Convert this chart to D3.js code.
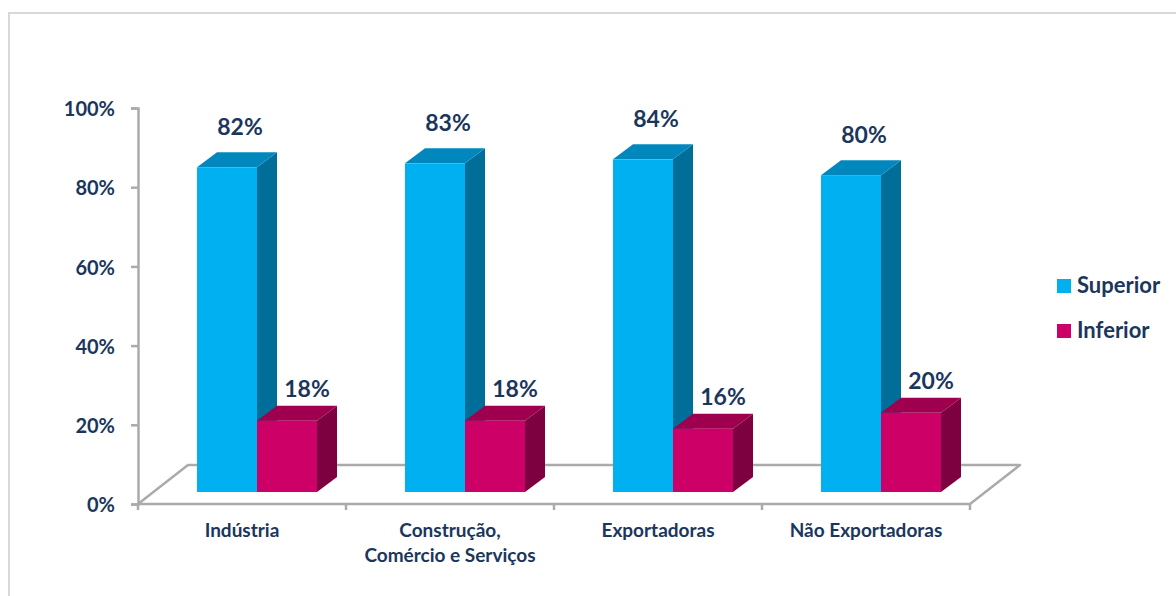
<!DOCTYPE html>
<html>
<head>
<meta charset="utf-8">
<script src="https://cdn.jsdelivr.net/npm/d3@7"></script>
<style>
  html, body { margin: 0; padding: 0; background: #fff; }
  svg { display: block; font-family: Lato, "Open Sans", sans-serif; }
</style>
</head>
<body>
<svg id="chart" width="1176" height="596"></svg>
<script>
// Categories and series
const categories = ["Indústria", "Construção,\nComércio e Serviços", "Exportadoras", "Não Exportadoras"];
const seriesNames = ["Superior", "Inferior"];
const superiorValues = [82, 83, 84, 80];
const inferiorValues = [18, 18, 16, 20];
const yTickValues = [0, 20, 40, 60, 80, 100];

const seriesValues = [superiorValues, inferiorValues];
const colors = {
  Superior: { front: "#00B0F0", top: "#0088BE", side: "#006E98" },
  Inferior: { front: "#CC0066", top: "#9E004F", side: "#7D0040" }
};
const textColor = "#1B365D";
const lineColor = "#ABABAB";

const svg = d3.select("#chart");

// Plot geometry (front plane of the 3D box)
const plotLeft = 138, plotRight = 970;
const y = d3.scaleLinear().domain([0, 100]).range([504, 108]);
const x = d3.scaleBand().domain(categories).range([plotLeft, plotRight]);
const groupWidth = 120;
const xs = d3.scaleBand().domain(seriesNames).range([0, groupWidth]);

// Depth offsets: full floor depth, bar placement depth, bar thickness
const floorDepth = { dx: 50, dy: -39 };
const barShift = { dx: 15, dy: -12 };
const barDepth = { dx: 20, dy: -15 };

// Outer frame
svg.append("path")
  .attr("d", "M9,600 L9,13 L1176,13")
  .attr("fill", "none")
  .attr("stroke", "#D9D9D9")
  .attr("stroke-width", 2);

// Floor
const y0 = y(0);
svg.append("path")
  .attr("d", d3.line()([
    [plotLeft, y0], [plotRight, y0],
    [plotRight + floorDepth.dx, y0 + floorDepth.dy],
    [plotLeft + floorDepth.dx, y0 + floorDepth.dy]
  ]) + "Z")
  .attr("fill", "#fff")
  .attr("stroke", lineColor)
  .attr("stroke-width", 2.5)
  .attr("stroke-linejoin", "round");

// Y axis
const yAxis = d3.axisLeft(y).tickValues(yTickValues).tickSize(7).tickPadding(16)
  .tickFormat(d => d + "%");
const yg = svg.append("g").attr("transform", `translate(${plotLeft},0)`).call(yAxis);
yg.select(".domain").attr("stroke", lineColor).attr("stroke-width", 2.5);
yg.selectAll(".tick line").attr("stroke", lineColor).attr("stroke-width", 2.5);
yg.selectAll(".tick text")
  .attr("fill", textColor)
  .attr("font-size", 20)
  .attr("font-weight", 700)
  .attr("font-family", "Lato, sans-serif")
  .attr("dy", "0.38em");

// X axis ticks at category boundaries
const boundaries = categories.map(c => x(c)).concat([plotRight]);
svg.append("g").selectAll("line").data(boundaries).join("line")
  .attr("x1", d => d).attr("x2", d => d)
  .attr("y1", y0).attr("y2", y0 + 6)
  .attr("stroke", lineColor).attr("stroke-width", 2.5);

// Category labels
const catG = svg.append("g");
categories.forEach(c => {
  const lines = c.split("\n");
  const cx = x(c) + x.bandwidth() / 2;
  const t = catG.append("text")
    .attr("x", cx)
    .attr("y", 537)
    .attr("text-anchor", "middle")
    .attr("fill", textColor)
    .attr("font-size", 19)
    .attr("font-weight", 700);
  lines.forEach((ln, i) => {
    t.append("tspan").attr("x", cx).attr("dy", i === 0 ? 0 : 25).text(ln);
  });
});

// Bars
const barsG = svg.append("g");
const labelsG = svg.append("g");
categories.forEach((c, ci) => {
  seriesNames.forEach((s, si) => {
    const v = seriesValues[si][ci];
    const x0 = x(c) + (x.bandwidth() - groupWidth) / 2 + barShift.dx + xs(s);
    const x1 = x0 + xs.bandwidth();
    const yb = y(0) + barShift.dy;
    const yt = y(v) + barShift.dy;
    const col = colors[s];
    const g = barsG.append("g");
    // side face
    g.append("path")
      .attr("d", d3.line()([
        [x1, yt], [x1 + barDepth.dx, yt + barDepth.dy],
        [x1 + barDepth.dx, yb + barDepth.dy], [x1, yb]
      ]) + "Z")
      .attr("fill", col.side);
    // top face
    g.append("path")
      .attr("d", d3.line()([
        [x0, yt], [x0 + barDepth.dx, yt + barDepth.dy],
        [x1 + barDepth.dx, yt + barDepth.dy], [x1, yt]
      ]) + "Z")
      .attr("fill", col.top);
    // front face
    g.append("rect")
      .attr("x", x0).attr("y", yt)
      .attr("width", x1 - x0).attr("height", yb - yt)
      .attr("fill", col.front);

    // value label
    const lift = s === "Superior" ? 17 : 9;
    const shift = s === "Superior" ? 13 : 20;
    labelsG.append("text")
      .attr("x", (x0 + x1) / 2 + shift)
      .attr("y", yt + barDepth.dy - lift)
      .attr("text-anchor", "middle")
      .attr("fill", textColor)
      .attr("font-size", 23)
      .attr("font-weight", 700)
      .text(v + "%");
  });
});

// Legend
const legend = svg.append("g").attr("transform", "translate(1057,279)");
seriesNames.forEach((s, i) => {
  const row = legend.append("g").attr("transform", `translate(0,${i * 45})`);
  row.append("rect").attr("width", 14).attr("height", 14).attr("fill", colors[s].front);
  row.append("text")
    .attr("x", 20).attr("y", 14)
    .attr("fill", textColor)
    .attr("font-size", 22)
    .attr("font-weight", 700)
    .text(s);
});
</script>
</body>
</html>
